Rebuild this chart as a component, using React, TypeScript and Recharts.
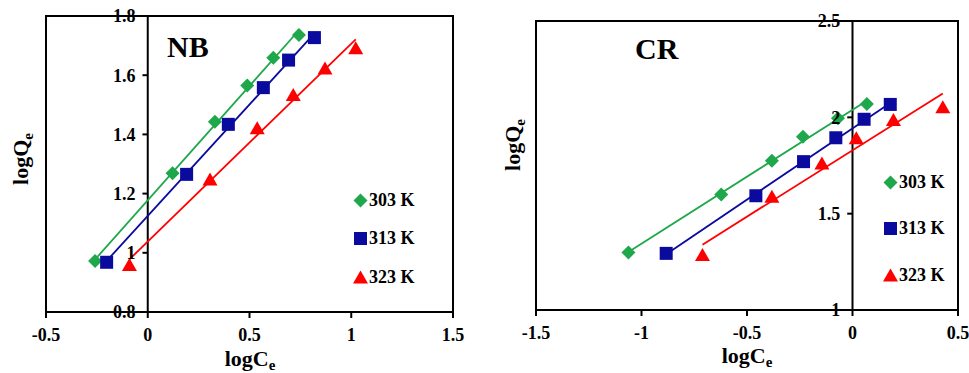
import { ScatterChart, Scatter, XAxis, YAxis, ReferenceLine, ReferenceArea, Legend } from 'recharts';

const FONT = '"Liberation Serif", "Times New Roman", serif';
const GREEN = '#1EA84B';
const BLUE = '#0A0A9E';
const RED = '#FF0000';

const temps = ['303 K', '313 K', '323 K'];

// NB isotherm points (logCe, logQe)
const nbX303 = [-0.259, 0.122, 0.33, 0.489, 0.617, 0.743];
const nbY303 = [0.972, 1.269, 1.443, 1.565, 1.659, 1.736];
const nbX313 = [-0.202, 0.191, 0.396, 0.568, 0.692, 0.819];
const nbY313 = [0.968, 1.265, 1.434, 1.558, 1.651, 1.727];
const nbX323 = [-0.09, 0.306, 0.538, 0.715, 0.871, 1.022];
const nbY323 = [0.959, 1.248, 1.421, 1.533, 1.623, 1.691];

// CR isotherm points (logCe, logQe)
const crX303 = [-1.062, -0.622, -0.382, -0.235, -0.069, 0.068];
const crY303 = [1.299, 1.6, 1.775, 1.899, 1.995, 2.069];
const crX313 = [-0.883, -0.458, -0.232, -0.079, 0.055, 0.179];
const crY313 = [1.294, 1.593, 1.77, 1.894, 1.99, 2.067];
const crX323 = [-0.711, -0.382, -0.145, 0.018, 0.194, 0.428];
const crY323 = [1.285, 1.588, 1.761, 1.891, 1.986, 2.052];

const nbXTicks = [-0.5, 0, 0.5, 1, 1.5];
const nbYTicks = [0.8, 1, 1.2, 1.4, 1.6, 1.8];
const crXTicks = [-1.5, -1, -0.5, 0, 0.5];
const crYTicks = [1, 1.5, 2, 2.5];

const toPoints = (xs: number[], ys: number[]) => xs.map((x, i) => ({ x, y: ys[i] }));

type ShapeProps = { cx?: number; cy?: number; fill?: string };

const Diamond = ({ cx = 0, cy = 0, fill }: ShapeProps) => (
  <path d={`M${cx},${cy - 7}L${cx + 7},${cy}L${cx},${cy + 7}L${cx - 7},${cy}Z`} fill={fill} />
);
const Square = ({ cx = 0, cy = 0, fill }: ShapeProps) => (
  <rect x={cx - 6.5} y={cy - 6.5} width={13} height={13} fill={fill} />
);
const Triangle = ({ cx = 0, cy = 0, fill }: ShapeProps) => (
  <path d={`M${cx},${cy - 7}L${cx + 7.5},${cy + 6}L${cx - 7.5},${cy + 6}Z`} fill={fill} />
);

const shapes = [Diamond, Square, Triangle];
const colors = [GREEN, BLUE, RED];

const tickStyle = { fill: '#000', fontSize: 18, fontWeight: 'bold', fontFamily: FONT };

type PanelProps = {
  name: string;
  width: number;
  margin: { top: number; right: number; bottom: number; left: number };
  xDomain: [number, number];
  yDomain: [number, number];
  xTicks: number[];
  yTicks: number[];
  tickLen: number;
  series: { x: number; y: number }[][];
  legendPos: { left: number; top: number; row: number };
  namePos: { x: number; y: number };
  xTitle: { x: number; y: number };
  yTitle: { x: number; y: number };
};

function Panel(p: PanelProps) {
  const height = 373;
  const renderLegend = ({ payload }: any) => (
    <div style={{ fontFamily: FONT, fontWeight: 'bold', fontSize: 18, textAlign: 'left' }}>
      {(payload || []).map((entry: any) => {
        const i = temps.indexOf(entry.value);
        const Shape = shapes[i];
        return (
          <div key={entry.value} style={{ display: 'flex', alignItems: 'center', height: p.legendPos.row }}>
            <svg width={15} height={15}>
              <Shape cx={7.5} cy={7.5} fill={colors[i]} />
            </svg>
            <span style={{ marginLeft: 1, color: '#000' }}>{entry.value}</span>
          </div>
        );
      })}
    </div>
  );

  return (
    <div style={{ position: 'relative', width: p.width, height }}>
      <ScatterChart width={p.width} height={height} margin={p.margin}>
        <XAxis
          type="number"
          dataKey="x"
          domain={p.xDomain}
          ticks={p.xTicks}
          interval={0}
          allowDataOverflow
          height={30}
          axisLine={{ stroke: '#000', strokeWidth: 2 }}
          tickLine={{ stroke: '#000', strokeWidth: 2 }}
          tickSize={6}
          tickMargin={10}
          tick={tickStyle}
        />
        <YAxis type="number" dataKey="y" domain={p.yDomain} allowDataOverflow hide />
        <ReferenceArea
          x1={p.xDomain[0]}
          x2={p.xDomain[1]}
          y1={p.yDomain[0]}
          y2={p.yDomain[1]}
          fill="none"
          fillOpacity={0}
          stroke="#000"
          strokeWidth={2}
        />
        <ReferenceLine x={0} stroke="#000" strokeWidth={2} />
        {p.yTicks.map((v) => (
          <ReferenceLine
            key={v}
            segment={[{ x: -p.tickLen, y: v }, { x: 0, y: v }]}
            stroke="#000"
            strokeWidth={2}
            label={{ value: String(v), position: 'left', offset: 7, ...tickStyle }}
          />
        ))}
        {p.series.map((pts, i) => {
          const Shape = shapes[i];
          return (
            <Scatter
              key={temps[i]}
              name={temps[i]}
              data={pts}
              fill={colors[i]}
              line={{ stroke: colors[i], strokeWidth: 1.8 }}
              lineType="fitting"
              shape={(props: any) => <Shape cx={props.cx} cy={props.cy} fill={colors[i]} />}
              isAnimationActive={false}
            />
          );
        })}
        <Legend
          layout="vertical"
          align="center"
          verticalAlign="middle"
          content={renderLegend}
          wrapperStyle={{ left: p.legendPos.left, top: p.legendPos.top, width: 80 }}
        />
      </ScatterChart>
      <svg
        width={p.width}
        height={height}
        style={{ position: 'absolute', left: 0, top: 0, pointerEvents: 'none' }}
        fontFamily={FONT}
        fontWeight="bold"
      >
        <text x={p.namePos.x} y={p.namePos.y} fontSize={30} fill="#000">
          {p.name}
        </text>
        <text x={p.xTitle.x} y={p.xTitle.y} fontSize={22} fill="#000" textAnchor="middle">
          logC<tspan fontSize={15} dy={4}>e</tspan>
        </text>
        <text
          x={p.yTitle.x}
          y={p.yTitle.y}
          fontSize={22}
          fill="#000"
          textAnchor="middle"
          transform={`rotate(-90, ${p.yTitle.x}, ${p.yTitle.y})`}
        >
          logQ<tspan fontSize={15} dy={5}>e</tspan>
        </text>
      </svg>
    </div>
  );
}

export default function App() {
  return (
    <div
      style={{
        position: 'absolute',
        left: 0,
        top: 0,
        width: 969,
        height: 373,
        display: 'flex',
        background: '#fff',
        overflow: 'hidden',
      }}
    >
      <Panel
        name="NB"
        width={490}
        margin={{ top: 16, right: 37, bottom: 31, left: 46 }}
        xDomain={[-0.5, 1.5]}
        yDomain={[0.8, 1.8]}
        xTicks={nbXTicks}
        yTicks={nbYTicks}
        tickLen={0.026}
        series={[toPoints(nbX303, nbY303), toPoints(nbX313, nbY313), toPoints(nbX323, nbY323)]}
        legendPos={{ left: 353, top: 181, row: 38.5 }}
        namePos={{ x: 167, y: 57 }}
        xTitle={{ x: 250, y: 366 }}
        yTitle={{ x: 28, y: 159 }}
      />
      <Panel
        name="CR"
        width={479}
        margin={{ top: 21, right: 11, bottom: 33, left: 46 }}
        xDomain={[-1.5, 0.5]}
        yDomain={[1, 2.5]}
        xTicks={crXTicks}
        yTicks={crYTicks}
        tickLen={0.025}
        series={[toPoints(crX303, crY303), toPoints(crX313, crY313), toPoints(crX323, crY323)]}
        legendPos={{ left: 393, top: 159, row: 46.5 }}
        namePos={{ x: 145, y: 59 }}
        xTitle={{ x: 257, y: 363 }}
        yTitle={{ x: 30, y: 145 }}
      />
    </div>
  );
}
